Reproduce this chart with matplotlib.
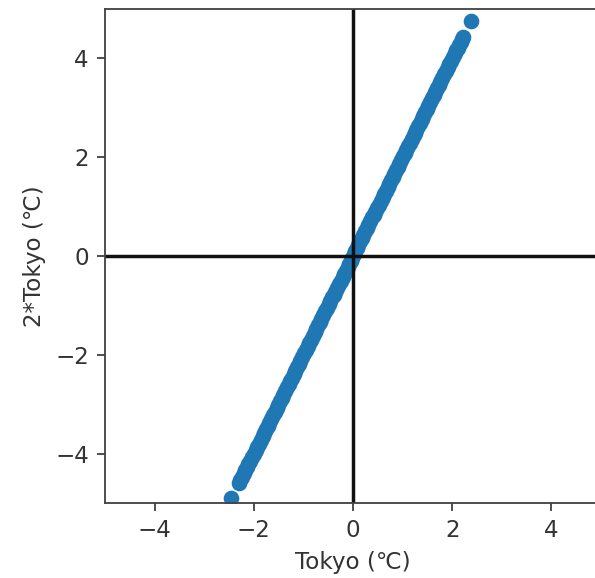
# imports
import matplotlib.pyplot as plt

# Tokyo temperature anomalies (x) and twice the anomaly (y)
tokyo = [-2.45,
         -2.30, -2.27, -2.24, -2.20, -2.17, -2.14, -2.11, -2.07, -2.03, -2.00,
         -1.96, -1.93, -1.90, -1.86, -1.82, -1.79, -1.75, -1.72, -1.69, -1.65,
         -1.61, -1.58, -1.54, -1.51, -1.47, -1.44, -1.41, -1.37, -1.33, -1.30,
         -1.27, -1.23, -1.19, -1.16, -1.12, -1.09, -1.06, -1.02, -0.98, -0.95,
         -0.91, -0.88, -0.85, -0.81, -0.77, -0.74, -0.70, -0.67, -0.64, -0.60,
         -0.56, -0.53, -0.49, -0.46, -0.42, -0.39, -0.36, -0.32, -0.28, -0.25,
         -0.21, -0.18, -0.15, -0.11, -0.08, -0.05, -0.02, 0.02, 0.05, 0.08,
         0.11, 0.15, 0.18, 0.21, 0.25, 0.28, 0.31, 0.35, 0.39, 0.42,
         0.45, 0.49, 0.52, 0.56, 0.60, 0.63, 0.66, 0.70, 0.73, 0.77,
         0.80, 0.83, 0.87, 0.90, 0.93, 0.97, 1.01, 1.04, 1.07, 1.11,
         1.14, 1.18, 1.22, 1.25, 1.28, 1.32, 1.35, 1.39, 1.42, 1.46,
         1.49, 1.52, 1.56, 1.60, 1.63, 1.66, 1.70, 1.73, 1.76, 1.80,
         1.84, 1.87, 1.91, 1.94, 1.97, 2.01, 2.05, 2.08, 2.11, 2.14,
         2.17, 2.20, 2.22, 2.38]
tokyo_x2 = [-4.90,
            -4.60, -4.54, -4.48, -4.40, -4.34, -4.28, -4.22, -4.14, -4.06, -4.00,
            -3.92, -3.86, -3.80, -3.72, -3.64, -3.58, -3.50, -3.44, -3.38, -3.30,
            -3.22, -3.16, -3.08, -3.02, -2.94, -2.88, -2.82, -2.74, -2.66, -2.60,
            -2.54, -2.46, -2.38, -2.32, -2.24, -2.18, -2.12, -2.04, -1.96, -1.90,
            -1.82, -1.76, -1.70, -1.62, -1.54, -1.48, -1.40, -1.34, -1.28, -1.20,
            -1.12, -1.06, -0.98, -0.92, -0.84, -0.78, -0.72, -0.64, -0.56, -0.50,
            -0.42, -0.36, -0.30, -0.22, -0.16, -0.10, -0.04, 0.04, 0.10, 0.16,
            0.22, 0.30, 0.36, 0.42, 0.50, 0.56, 0.62, 0.70, 0.78, 0.84,
            0.90, 0.98, 1.04, 1.12, 1.20, 1.26, 1.32, 1.40, 1.46, 1.54,
            1.60, 1.66, 1.74, 1.80, 1.86, 1.94, 2.02, 2.08, 2.14, 2.22,
            2.28, 2.36, 2.44, 2.50, 2.56, 2.64, 2.70, 2.78, 2.84, 2.92,
            2.98, 3.04, 3.12, 3.20, 3.26, 3.32, 3.40, 3.46, 3.52, 3.60,
            3.68, 3.74, 3.82, 3.88, 3.94, 4.02, 4.10, 4.16, 4.22, 4.28,
            4.34, 4.40, 4.44, 4.76]
ticks = [-4, -2, 0, 2, 4]

# everything scaled up ~1.66x from the default look
k = 1.66
plt.rcParams['font.family'] = ['DejaVu Sans', 'Noto Sans CJK JP']
plt.rcParams['font.size'] = 10 * k

fig = plt.figure(figsize=(5.95, 5.78), dpi=100)
ax = fig.add_axes([105 / 595, 75 / 578, 496 / 595, 494 / 578])

ax.scatter(tokyo, tokyo_x2, s=105, color='#1f77b4')
ax.axhline(0, color='#111111', lw=1.5 * k)
ax.axvline(0, color='#111111', lw=1.5 * k)

ax.set_xlim(-5, 5)
ax.set_ylim(-5, 5)
ax.set_xticks(ticks)
ax.set_yticks(ticks)
ax.set_xlabel('Tokyo (℃)', labelpad=4 * k, color='#333333')
ax.set_ylabel('2*Tokyo (℃)', labelpad=4 * k, color='#333333')

for sp in ax.spines.values():
    sp.set_linewidth(0.8 * k)
    sp.set_color('#444444')
ax.tick_params(length=3.5 * k, width=0.8 * k, pad=3.5 * k,
               color='#444444', labelcolor='#333333')

fig.savefig('out.png', dpi=100)
